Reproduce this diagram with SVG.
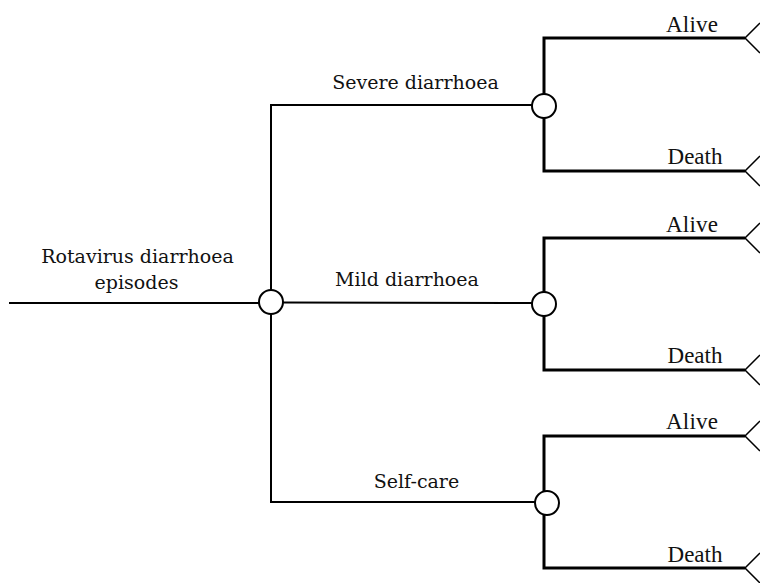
<svg xmlns="http://www.w3.org/2000/svg" width="760" height="583" viewBox="0 0 760 583">
<style>
.ln{stroke:#000;stroke-width:2;fill:none}
.br{stroke:#000;stroke-width:3;fill:none}
.tri{stroke:#000;stroke-width:1.5;fill:none}
.nd{stroke:#000;stroke-width:2;fill:#fff}
.lb{font-family:"DejaVu Serif",serif;font-size:19px;fill:#111;text-anchor:middle}
.oc{font-family:"Liberation Serif","Times New Roman",serif;font-size:23px;fill:#111;text-anchor:middle}
</style>
<rect width="760" height="583" fill="#fff"/>
<g id="connectors">
<line class="ln" x1="9" y1="303" x2="259" y2="303"/>
<line class="ln" x1="271" y1="104" x2="271" y2="503"/>
<line class="ln" x1="270" y1="105" x2="532" y2="105"/>
<line class="ln" x1="283" y1="302.5" x2="532" y2="303"/>
<line class="ln" x1="270" y1="502" x2="535" y2="502"/>
<polyline class="br" points="745,38 544,38 544,171 745,171"/>
<polyline class="br" points="745,238 544,238 544,370 745,370"/>
<polyline class="br" points="745,436 544,436 544,568 745,568"/>
</g>
<g id="root-node"><circle class="nd" cx="271" cy="302" r="12"/></g>
<g id="severe-node"><circle class="nd" cx="544" cy="106" r="12"/></g>
<g id="mild-node"><circle class="nd" cx="544" cy="304" r="12"/></g>
<g id="selfcare-node"><circle class="nd" cx="547" cy="503" r="12"/></g>
<g id="terminals">
<polyline class="tri" points="760,23 745,38 760,53"/>
<polyline class="tri" points="760,156 745,171 760,186"/>
<polyline class="tri" points="760,223 745,238 760,253"/>
<polyline class="tri" points="760,355 745,370 760,385"/>
<polyline class="tri" points="760,421 745,436 760,451"/>
<polyline class="tri" points="760,553 745,568 760,583"/>
</g>
<g id="labels">
<text class="lb" x="137.5" y="263">Rotavirus diarrhoea</text>
<text class="lb" x="136.5" y="289">episodes</text>
<text class="lb" x="415.5" y="89">Severe diarrhoea</text>
<text class="lb" x="407" y="286">Mild diarrhoea</text>
<text class="lb" x="416.5" y="488">Self-care</text>
<text class="oc" x="692" y="31.5" textLength="52" lengthAdjust="spacing">Alive</text>
<text class="oc" x="695" y="164">Death</text>
<text class="oc" x="692" y="231.5" textLength="52" lengthAdjust="spacing">Alive</text>
<text class="oc" x="695" y="363">Death</text>
<text class="oc" x="692" y="428.5" textLength="52" lengthAdjust="spacing">Alive</text>
<text class="oc" x="695" y="561.5">Death</text>
</g>
</svg>
